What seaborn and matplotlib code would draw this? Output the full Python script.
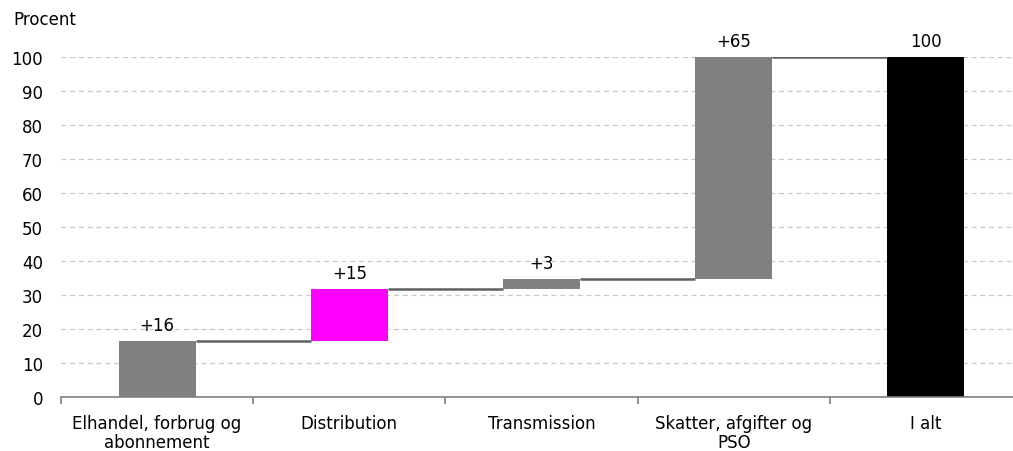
import matplotlib
matplotlib.use("Agg")
import matplotlib.pyplot as plt
import numpy as np
import pandas as pd
import seaborn as sns

# Price components of electricity (per cent of total price)
categories = ["Elhandel, forbrug og\nabonnement", "Distribution", "Transmission",
              "Skatter, afgifter og\nPSO", "I alt"]
increments = [16.5, 15.2, 3.1, 65.2, 100.0]
value_labels = ["+16", "+15", "+3", "+65", "100"]
bar_colors = ["#808080", "#FF00FF", "#808080", "#808080", "#000000"]
y_ticks = list(range(0, 101, 10))

# Base of each floating bar: running total, except the total bar which starts at 0
running = np.cumsum(increments[:-1])
bases = [0.0] + list(running[:-1]) + [0.0]
tops = [b + h for b, h in zip(bases, increments)]

df = pd.DataFrame({"kategori": categories, "andel": increments, "bund": bases})

sns.set_theme(style="white")
plt.rcParams["font.family"] = ["DejaVu Sans"]
plt.rcParams["font.size"] = 12

fig = plt.figure(figsize=(10.13, 4.52), dpi=100)
ax = fig.add_axes([61 / 1013, 54 / 452, 961 / 1013, 340 / 452])

sns.barplot(data=df, x="kategori", y="andel", bottom=df["bund"].values,
            color="#808080", width=0.4, errorbar=None, ax=ax, zorder=3,
            saturation=1)
for patch, col in zip(ax.patches, bar_colors):
    patch.set_facecolor(col)
    patch.set_edgecolor("none")

# Connector lines between neighbouring bars
half = 0.2
for i in range(len(categories) - 1):
    ax.hlines(tops[i], i + half, i + 1 - half, color="#606060", lw=1.8, zorder=4)

# Value labels above the bars
for i, (t, lab) in enumerate(zip(tops, value_labels)):
    ax.annotate(lab, (i, t), xytext=(0, 5), textcoords="offset points",
                ha="center", va="bottom", fontsize=12, color="#000000",
                annotation_clip=False)

ax.set_xlim(-0.5, len(categories) - 0.5)
ax.set_ylim(0, 100)
ax.set_yticks(y_ticks)
ax.yaxis.grid(True, color="#C8C8C8", linestyle=(0, (4, 3)), lw=0.9, zorder=0)
ax.set_axisbelow(True)

for side in ["left", "right", "top"]:
    ax.spines[side].set_visible(False)
ax.spines["bottom"].set_color("#808080")
ax.spines["bottom"].set_linewidth(1.2)
ax.spines["bottom"].set_zorder(5)

# Category boundary ticks on the x axis
ax.set_xticks(np.arange(-0.5, len(categories), 1.0), minor=True)
ax.tick_params(axis="x", which="minor", length=5, width=1.2, color="#808080",
               direction="out", bottom=True)
ax.tick_params(axis="x", which="major", length=0, pad=12, labelsize=12,
               colors="#000000")
ax.tick_params(axis="y", length=0, pad=13, labelsize=12, colors="#000000")
for lab in ax.get_xticklabels():
    lab.set_multialignment("center")
    lab.set_linespacing(1.1)
ax.set_xlabel("")
ax.set_ylabel("")

fig.text(13 / 1013, 1 - 20 / 452, "Procent", ha="left", va="center",
         fontsize=12, color="#000000")

fig.savefig("out.png", dpi=100)
